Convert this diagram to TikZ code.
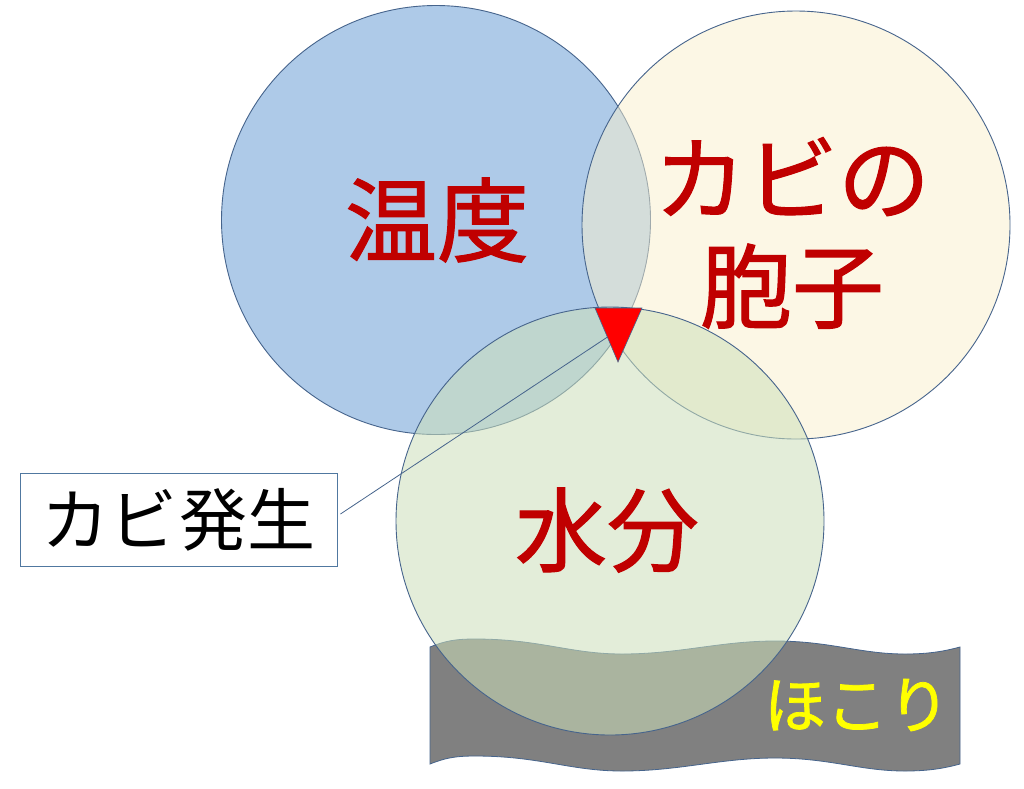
\documentclass[tikz,border=0pt]{standalone}
\usepackage{fontspec}
\newfontfamily\jp{Noto Sans CJK JP}
\newfontfamily\jpb[FakeBold=1.2]{Noto Sans CJK JP}
\definecolor{bluefill}{RGB}{174,202,232}
\definecolor{yelfill}{RGB}{251,241,205}
\definecolor{grnfill}{RGB}{205,224,186}
\definecolor{edge}{RGB}{70,100,140}
\definecolor{dustgray}{RGB}{128,128,128}
\definecolor{darkred}{RGB}{192,0,0}
\definecolor{boxedge}{RGB}{80,120,160}
\tikzset{
  circ/.style={draw=edge, line width=0.9pt},
  bigred/.style={text=darkred, font=\jpb\fontsize{92}{108}\selectfont, align=center, inner sep=0pt},
}
\begin{document}
\begin{tikzpicture}[x=1pt,y=-1pt]
\useasboundingbox (0,0) rectangle (1024,788);
\fill[white] (0,0) rectangle (1024,788);
% circles
\draw[circ, fill=bluefill] (436,220) circle (214.5);
\draw[circ, fill=yelfill, fill opacity=0.5] (796,225) circle (214);
% dust
\draw[draw=edge, line width=0.8pt, fill=dustgray]
  (430,647) .. controls (445,641) and (455,639) .. (475,639)
  .. controls (540,639) and (570,654) .. (622,654)
  .. controls (680,654) and (720,641) .. (775,641)
  .. controls (830,641) and (860,654) .. (905,654)
  .. controls (930,654) and (945,651) .. (960,647)
  -- (960,764)
  .. controls (945,768) and (930,771) .. (905,771)
  .. controls (860,771) and (830,758) .. (775,758)
  .. controls (720,758) and (680,771) .. (622,771)
  .. controls (570,771) and (540,756) .. (475,756)
  .. controls (455,756) and (445,758) .. (430,764)
  -- cycle;
\draw[circ, fill=grnfill, fill opacity=0.55] (610,521) circle (214);
% labels
\node[bigred] (temp) at (437,220) {温度};
\node[bigred] (spore) at (792,233) {カビの\\胞子};
\node[bigred] (water) at (607,530) {水分};
\node[text={rgb,255:red,255;green,255;blue,0}, font=\jpb\fontsize{62}{70}\selectfont, inner sep=0pt] (dust) at (857,705) {ほこり};
% callout
\node[draw=boxedge, line width=0.9pt, fill=white, minimum width=317pt, minimum height=93pt, inner sep=0pt,
      font=\jp\fontsize{68}{76}\selectfont] (box) at (178.5,519.5) {カビ\hspace{3pt}発生};
\coordinate (tip) at (609,336);
\draw[edge, line width=0.8pt] ([xshift=3pt,yshift=5.5pt]box.east) -- (tip);
% triangle
\draw[draw=edge, line width=0.6pt, fill=red] (595,308) -- (642,308) -- (618,362) -- cycle;
\end{tikzpicture}
\end{document}
